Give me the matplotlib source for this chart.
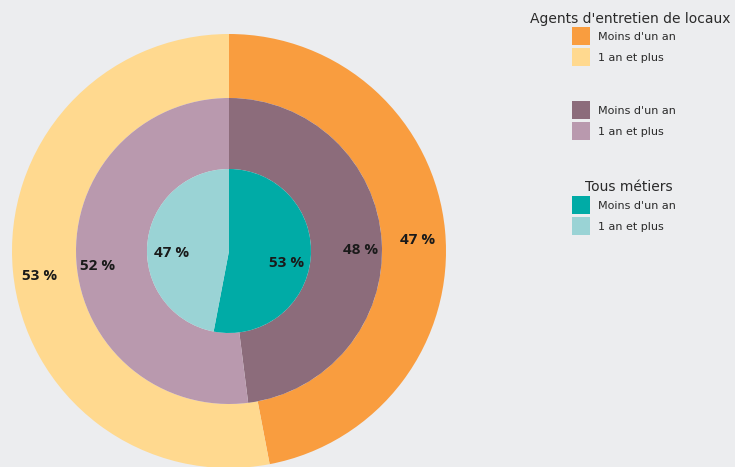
import matplotlib
matplotlib.use("Agg")
import matplotlib.pyplot as plt
from matplotlib.patches import Patch

labels = ["Moins d'un an", "1 an et plus"]
outer_vals = [47, 53]
middle_vals = [48, 52]
inner_vals = [53, 47]
outer_colors = ["#F99D3F", "#FFD98F"]
middle_colors = ["#8C6C7B", "#B999AE"]
inner_colors = ["#00ABA6", "#9AD3D5"]
legend_titles = ["Agents d'entretien de locaux", "", "Tous métiers"]

bg = "#ECEDEF"
W, H = 735, 467
fig = plt.figure(figsize=(W / 100, H / 100), dpi=100, facecolor=bg)
cx, cy, R = 229, 251, 217
ax = fig.add_axes([(cx - R) / W, (H - cy - R) / H, 2 * R / W, 2 * R / H])
ax.set_facecolor(bg)
ax.axis("off")

r_mid = 153 / R
r_in = 82 / R
lbl = dict(fontsize=11, fontweight="bold", color="#1a1a1a", family=["Open Sans", "DejaVu Sans"])
fmt = lambda p: f"{p:.0f} %"

res = []
res.append(ax.pie(outer_vals, colors=outer_colors, startangle=90, counterclock=False, radius=1.0,
       wedgeprops=dict(width=1.0 - r_mid, linewidth=0), autopct=fmt,
       pctdistance=0.875, textprops=lbl))
res.append(ax.pie(middle_vals, colors=middle_colors, startangle=90, counterclock=False, radius=r_mid,
       wedgeprops=dict(width=r_mid - r_in, linewidth=0), autopct=fmt,
       pctdistance=0.86, textprops=lbl))
res.append(ax.pie(inner_vals, colors=inner_colors, startangle=90, counterclock=False, radius=r_in,
       wedgeprops=dict(linewidth=0), autopct=fmt, pctdistance=0.7, textprops=lbl))
for r in res:
    for t in r[2]:
        t.set_va("top")
ax.set_xlim(-1, 1)
ax.set_ylim(-1, 1)
ax.set_aspect("equal")

groups = [outer_colors, middle_colors, inner_colors]
title_pos = [(630, 19), (630, 90), (629, 187)]
entry_top = [27, 101, 196]
for title, cols, (tx, ty), top in zip(legend_titles, groups, title_pos, entry_top):
    if title:
        fig.text(tx / W, 1 - ty / H, title, ha="center", va="center",
                 fontsize=10, color="#2a2a2a")
    handles = [Patch(facecolor=c, edgecolor="none") for c in cols]
    leg = fig.legend(handles, labels, loc="upper left",
                     bbox_to_anchor=(572 / W, 1 - top / H), frameon=False,
                     fontsize=8, borderpad=0, borderaxespad=0,
                     handlelength=1.62, handleheight=2.14, labelspacing=0.28,
                     handletextpad=0.7)
    for t in leg.get_texts():
        t.set_color("#2a2a2a")

fig.savefig("out.png", dpi=100, facecolor=bg)
